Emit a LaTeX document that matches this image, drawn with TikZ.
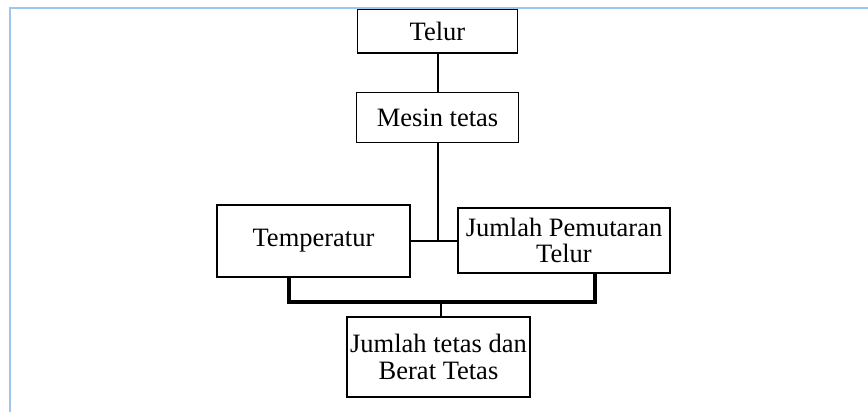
\documentclass[tikz,border=0pt]{standalone}
\usepackage{fontspec}
\setmainfont{Liberation Serif}
\definecolor{framec}{RGB}{158,198,234}
\begin{document}
\begin{tikzpicture}[x=1pt,y=-1pt,
  box/.style={draw=black,line width=1.8pt,fill=white,inner sep=0pt,align=center,
    font=\fontsize{26.5}{26.5}\selectfont},
  link/.style={draw=black,line width=2pt},
  thicklink/.style={draw=black,line width=3.4pt},
  frameline/.style={draw=framec,line width=2pt}]
\useasboundingbox (0,0) rectangle (868,412);
\node[box,minimum width=160pt,minimum height=44pt] (telur) at (437.5,31) {Telur};
\node[box,minimum width=162pt,minimum height=50pt] (mesin) at (437.5,117.5) {Mesin tetas};
\node[box,minimum width=193pt,minimum height=72pt] (temp) at (313.5,241) {Temperatur};
\node[box,minimum width=212pt,minimum height=65pt] (putar) at (564,240.5) {Jumlah Pemutaran\\Telur};
\node[box,minimum width=183pt,minimum height=80pt] (hasil) at (438.5,357) {Jumlah tetas dan\\Berat Tetas};
\coordinate (bl) at (289,302);
\coordinate (br) at (595,302);
\coordinate (bm) at (441,302);
\draw[link] (telur.south) -- (mesin.north);
\draw[link] (mesin.south) -- (mesin.south |- temp.east);
\draw[link] (temp.east) -- (temp.east -| putar.west);
\draw[thicklink,line join=miter] (temp.south -| bl) -- (bl) -- (br) -- (putar.south -| br);
\draw[link,line width=2.6pt] (bm) -- (hasil.north -| bm);
\coordinate (f1) at (10,412);
\coordinate (f2) at (10,8.5);
\coordinate (f3) at (868,8.5);
\draw[frameline] (f1) -- (f2) -- (f3);
\end{tikzpicture}
\end{document}
